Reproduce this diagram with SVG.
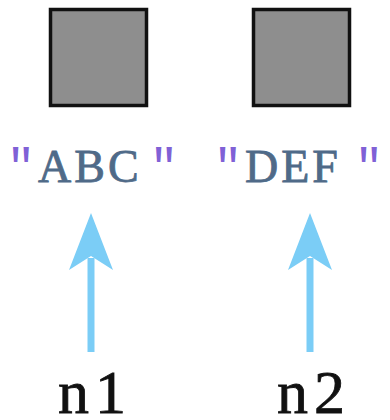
<svg xmlns="http://www.w3.org/2000/svg" width="390" height="420" viewBox="0 0 390 420">
<defs>
<style>
.box{fill:#8e8e8e;stroke:#111;stroke-width:3.5}
.str{font-family:"Liberation Serif","Times New Roman",serif;font-size:46px;fill:#4f6a88;stroke:#4f6a88;stroke-width:0.8;letter-spacing:3px}
.q{font-family:"Liberation Mono","Courier New",monospace;font-size:48px;fill:#8061d6}
.var{font-family:"Liberation Serif","Times New Roman",serif;font-size:62px;fill:#111;stroke:#111;stroke-width:0.8;letter-spacing:6px}
.conn{stroke:#7bcdf6;stroke-width:7;fill:none}
.head{fill:#7bcdf6}
</style>
</defs>
<rect width="390" height="420" fill="#fff"/>
<g id="obj1"><rect class="box" x="50.5" y="9.5" width="96" height="96"/></g>
<g id="obj2"><rect class="box" x="253.5" y="9.5" width="96" height="96"/></g>
<g id="str1">
<text class="q" x="21" y="182" text-anchor="middle">"</text>
<text class="str" x="38" y="182">ABC</text>
<text class="q" x="164" y="182" text-anchor="middle">"</text>
</g>
<g id="str2">
<text class="q" x="228" y="182" text-anchor="middle">"</text>
<text class="str" x="245" y="182">DEF</text>
<text class="q" x="369" y="182" text-anchor="middle">"</text>
</g>
<g id="n1"><text class="var" x="58" y="413">n1</text></g>
<g id="n2"><text class="var" x="277" y="413">n2</text></g>
<g id="connectors">
<line class="conn" x1="91" y1="352" x2="91" y2="258"/>
<path class="head" d="M91,213 L113,270 L91,256 L69,270 Z"/>
<line class="conn" x1="310" y1="352" x2="310" y2="258"/>
<path class="head" d="M310,213 L332,270 L310,256 L288,270 Z"/>
</g>
</svg>
